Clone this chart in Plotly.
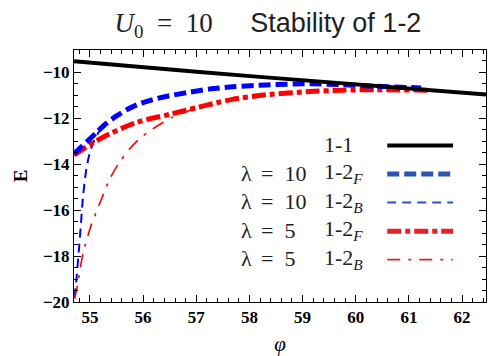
import plotly.graph_objects as go

# ---------------- data ----------------
phi_11 = [54.70, 57.06, 58.19, 62.45]
E_11 = [-9.52, -9.99, -10.20, -10.97]

phi_l10_F = [54.70, 54.85, 55.00, 55.15, 55.30, 55.50, 55.70, 55.90, 56.18, 56.50, 56.82,
             57.25, 57.68, 58.32, 59.13, 59.74, 60.38, 61.23]
E_l10_F = [-13.55, -13.22, -12.90, -12.56, -12.24, -11.90, -11.62, -11.40, -11.19, -11.02,
           -10.89, -10.73, -10.63, -10.55, -10.50, -10.54, -10.61, -10.68]

phi_l10_B = [54.71, 54.75, 54.79, 54.83, 54.87, 54.93, 55.00, 55.08, 55.18, 55.30]
E_l10_B = [-19.80, -18.90, -17.80, -16.61, -15.40, -14.25, -13.47, -12.98, -12.55, -12.24]

phi_l5_F = [54.70, 55.00, 55.37, 55.88, 56.50, 57.01, 57.38, 57.68, 58.32, 59.13,
            59.74, 60.38, 61.41]
E_l5_F = [-13.60, -13.15, -12.68, -12.18, -11.83, -11.54, -11.33, -11.18, -10.98, -10.84,
          -10.78, -10.76, -10.78]

phi_l5_B = [54.71, 54.75, 54.87, 55.03, 55.13, 55.38, 55.56, 55.75, 55.97, 56.12,
            56.35, 56.55, 56.78, 57.01]
E_l5_B = [-19.85, -19.46, -17.89, -16.61, -16.03, -14.61, -13.90, -13.32, -12.82, -12.56,
          -12.22, -11.96, -11.75, -11.53]

SP2 = "\u00a0\u00a0"
legend_symbol = ["", "λ", "λ", "λ", "λ"]
legend_value = ["", "=" + SP2 + "10", "=" + SP2 + "10", "=" + SP2 + "5", "=" + SP2 + "5"]
legend_branch = ["1-1", "1-2<sub><i>F</i></sub>", "1-2<sub><i>B</i></sub>",
                 "1-2<sub><i>F</i></sub>", "1-2<sub><i>B</i></sub>"]

x_range = [54.70, 62.45]
y_range = [-20.0, -9.03]
x_ticks = [55, 56, 57, 58, 59, 60, 61, 62]
y_ticks = [-20, -18, -16, -14, -12, -10]

# ---------------- styles ----------------
W, H = 489, 356
ML, MR, MT, MB = 74, 2, 50, 50
PW, PH = W - ML - MR, H - MT - MB

BLUE, RED = "#0000FF", "#FF0000"
LBLUE, LRED = "#2B55B5", "#E8202A"
SERIF = "Liberation Serif, Times New Roman, serif"


def fmt(v):
    return "<b>" + ("\u2212" if v < 0 else "") + str(abs(v)) + "</b>"


styles = [
    dict(color="black", width=4, dash="solid"),
    dict(color=BLUE, width=5, dash="12px,5px"),
    dict(color=BLUE, width=2, dash="9px,6px"),
    dict(color=RED, width=5, dash="14px,4px,5px,4px"),
    dict(color=RED, width=1.6, dash="13px,8px,3px,8px"),
]
legend_colors = ["black", LBLUE, LBLUE, LRED, LRED]

series = [(phi_11, E_11), (phi_l10_F, E_l10_F), (phi_l10_B, E_l10_B),
          (phi_l5_F, E_l5_F), (phi_l5_B, E_l5_B)]

fig = go.Figure()
for i in [2, 4, 3, 1, 0]:
    xs, ys = series[i]
    fig.add_trace(go.Scatter(x=xs, y=ys, mode="lines", line=dict(styles[i], shape="spline",
                                                                 smoothing=0.8),
                             showlegend=False, hoverinfo="skip"))


def px(xpix):
    return (xpix - ML) / PW


def py(ypix):
    return (H - MB - ypix) / PH


def label(xpix, ypix, text):
    fig.add_annotation(x=px(xpix), y=py(ypix), xref="paper", yref="paper",
                       text=text, showarrow=False, xanchor="left", yanchor="middle",
                       font=dict(family=SERIF, size=22, color="#222"))


row_y = [146, 175, 204, 233, 262]
for k in range(5):
    if legend_symbol[k]:
        label(239, row_y[k], legend_symbol[k])
        label(259, row_y[k], legend_value[k])
    label(323, row_y[k], legend_branch[k])
    st = dict(styles[k])
    st["color"] = legend_colors[k]
    fig.add_shape(type="line", xref="paper", yref="paper",
                  x0=px(388), x1=px(454), y0=py(row_y[k] + 1), y1=py(row_y[k] + 1),
                  line=st)

tickfont = dict(family=SERIF, size=17, color="black")
axis_common = dict(showline=True, linecolor="black", linewidth=1, mirror="allticks",
                   ticks="inside", ticklen=7, tickcolor="black", tickwidth=1,
                   showgrid=False, zeroline=False, tickfont=tickfont)

fig.update_xaxes(range=x_range, tickvals=x_ticks, ticktext=[fmt(v) for v in x_ticks],
                 minor=dict(dtick=0.2, ticks="inside", ticklen=4, tickcolor="black",
                            showgrid=False),
                 title=dict(text="<i>φ</i>", font=dict(family=SERIF, size=21, color="black"),
                            standoff=12),
                 **axis_common)
fig.update_yaxes(range=y_range, tickvals=y_ticks, ticktext=[fmt(v) for v in y_ticks],
                 minor=dict(dtick=0.5, ticks="inside", ticklen=4, tickcolor="black",
                            showgrid=False),
                 title=dict(text="<b>E</b>", font=dict(family=SERIF, size=19, color="black"),
                            standoff=10),
                 **axis_common)

fig.update_layout(
    width=W, height=H,
    margin=dict(l=ML, r=MR, t=MT, b=MB),
    paper_bgcolor="white", plot_bgcolor="white",
    title=dict(
        text=('<span style="font-family:Liberation Serif"><i>U</i><sub>0</sub>'
              + SP2 + '=' + SP2 + '10</span>' + "\u00a0" * 5 + 'Stability of 1-2'),
        x=268 / W, xanchor="center", y=1 - 23 / H, yanchor="middle",
        font=dict(family="Liberation Sans, Arial, sans-serif", size=27, color="#222")),
)

fig.write_html("out.html")
